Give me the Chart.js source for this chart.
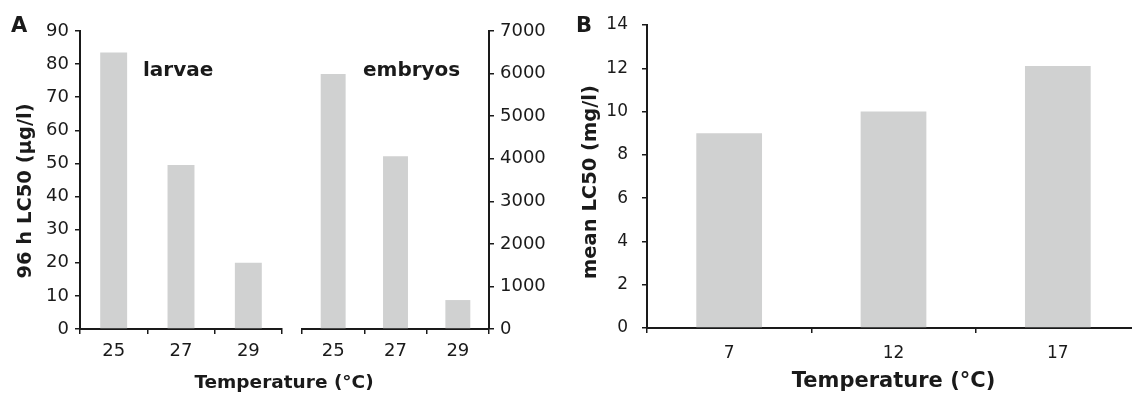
<!DOCTYPE html>
<html>
<head>
<meta charset="utf-8">
<script src="https://cdn.jsdelivr.net/npm/chart.js@4.4.0/dist/chart.umd.min.js"></script>
<style>
  html, body { margin: 0; padding: 0; background: #fff; overflow: hidden; }
  body { width: 1132px; height: 394px; position: relative; font-family: "DejaVu Sans", sans-serif; }
  .box { position: absolute; }
  .lbl { position: absolute; font-weight: bold; color: #1a1a1a; white-space: nowrap; line-height: 1; }
  .ytitle { position: absolute; font-weight: bold; color: #1a1a1a; white-space: nowrap; line-height: 1;
            transform: translate(-50%, -50%) rotate(-90deg); }
</style>
</head>
<body>
<div class="box" style="left:0;top:0;width:292px;height:394px"><canvas id="larvae"></canvas></div>
<div class="box" style="left:292px;top:0;width:268px;height:394px"><canvas id="embryos"></canvas></div>
<div class="box" style="left:560px;top:0;width:585px;height:394px"><canvas id="panelB"></canvas></div>

<div class="lbl" style="left:11px;top:15px;font-size:21px">A</div>
<div class="lbl" style="left:576px;top:15px;font-size:21px">B</div>
<div class="lbl" style="left:143px;top:59px;font-size:20px">larvae</div>
<div class="lbl" style="left:363px;top:59px;font-size:20px">embryos</div>
<div class="lbl" style="left:284px;top:373px;font-size:18.5px;transform:translateX(-50%)">Temperature (°C)</div>
<div class="ytitle" style="left:25px;top:191px;font-size:19.5px">96 h LC50 (μg/l)</div>
<div class="ytitle" style="left:590px;top:182px;font-size:19.5px">mean LC50 (mg/l)</div>

<script>
// panel A
const tempsA = ["25", "27", "29"]
const larvaeLC50 = [83.5, 49.5, 20]        // µg/l
const embryosLC50 = [5990, 4060, 680]      // µg/l
// panel B
const tempsB = ["7", "12", "17"]
const meanLC50 = [9.0, 10.0, 12.1]         // mg/l

const BAR = "#d0d1d1"
const INK = "#1a1a1a"
Chart.defaults.font.family = "'DejaVu Sans', sans-serif"
Chart.defaults.color = INK
Chart.defaults.animation = false

function axisStyle() {
    return {
        border: { color: INK, width: 2 },
        grid: { drawOnChartArea: false, drawTicks: true, tickLength: 5, color: INK, lineWidth: 1.5 }
    }
}

function fixSize(w, h) {
    return function (scale) {
        if (w != null) scale.width = w
        if (h != null) scale.height = h
    }
}

const plain = v => String(v)

let larvaeChart = new Chart(document.getElementById("larvae"), {
    type: "bar",
    data: {
        labels: tempsA,
        datasets: [{ data: larvaeLC50, backgroundColor: BAR, barPercentage: 0.8, categoryPercentage: 0.5 }]
    },
    options: {
        responsive: true,
        maintainAspectRatio: false,
        layout: { padding: { top: 31, right: 10, left: 0, bottom: 0 } },
        plugins: { legend: { display: false }, tooltip: { enabled: false } },
        scales: {
            x: {
                ...axisStyle(),
                afterFit: fixSize(null, 65),
                ticks: { font: { size: 18 }, padding: 7, color: INK }
            },
            y: {
                ...axisStyle(),
                min: 0, max: 90,
                afterFit: fixSize(80, null),
                ticks: { stepSize: 10, font: { size: 18 }, padding: 6, color: INK, callback: plain }
            }
        }
    }
})

let embryoChart = new Chart(document.getElementById("embryos"), {
    type: "bar",
    data: {
        labels: tempsA,
        datasets: [{ data: embryosLC50, backgroundColor: BAR, barPercentage: 0.8, categoryPercentage: 0.5 }]
    },
    options: {
        responsive: true,
        maintainAspectRatio: false,
        layout: { padding: { top: 31, right: 0, left: 10, bottom: 0 } },
        plugins: { legend: { display: false }, tooltip: { enabled: false } },
        scales: {
            x: {
                ...axisStyle(),
                afterFit: fixSize(null, 65),
                ticks: { font: { size: 18 }, padding: 7, color: INK }
            },
            y: {
                ...axisStyle(),
                position: "right",
                min: 0, max: 7000,
                afterFit: fixSize(71, null),
                ticks: { stepSize: 1000, font: { size: 18 }, padding: 6, color: INK, callback: plain }
            }
        }
    }
})

let chartB = new Chart(document.getElementById("panelB"), {
    type: "bar",
    data: {
        labels: tempsB,
        datasets: [{ data: meanLC50, backgroundColor: BAR, barPercentage: 0.8, categoryPercentage: 0.5 }]
    },
    options: {
        responsive: true,
        maintainAspectRatio: false,
        layout: { padding: { top: 25, right: 5, left: 0, bottom: 0 } },
        plugins: { legend: { display: false }, tooltip: { enabled: false } },
        scales: {
            x: {
                ...axisStyle(),
                afterFit: fixSize(null, 66),
                ticks: { font: { size: 17 }, padding: 10, color: INK },
                title: { display: true, text: "Temperature (°C)", font: { size: 21, weight: "bold" }, padding: { top: 0, bottom: 0 }, color: INK }
            },
            y: {
                ...axisStyle(),
                min: 0, max: 14,
                afterFit: fixSize(87, null),
                ticks: { stepSize: 2, font: { size: 17 }, padding: 14, color: INK, callback: plain }
            }
        }
    }
})
</script>
</body>
</html>
